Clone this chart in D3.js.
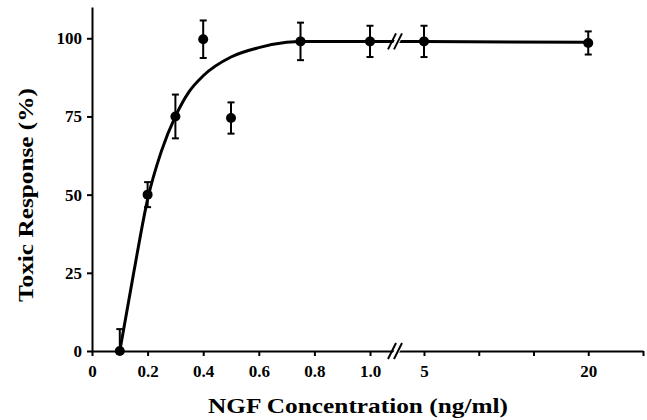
<!DOCTYPE html>
<html>
<head>
<meta charset="utf-8">
<script src="https://cdn.jsdelivr.net/npm/d3@7"></script>
<style>
  body { margin: 0; background: #fff; }
  text { font-family: "Liberation Serif", "DejaVu Serif", serif; font-weight: bold; fill: #000; }
</style>
</head>
<body>
<div id="chart"></div>
<script>
// measured points (NGF ng/ml vs % toxic response) with error bars
var concentration = [0.1, 0.2, 0.3, 0.4, 0.5, 0.75, 1.0, 5, 20];
var response = [0, 50, 75, 99.7, 74.5, 99, 99, 99, 98.5];
var responseErr = [7, 4, 7, 6, 5, 6, 5, 5, 3.7];

// fitted curve
var fitX = [0.1, 0.15, 0.2, 0.25, 0.3, 0.35, 0.4, 0.5, 0.6, 0.7, 0.75, 1.0, 5, 20];
var fitY = [0, 25, 48.5, 64, 75, 83, 88, 94, 97, 98.7, 99, 99, 99, 98.7];

var xTickValues = [0, 0.2, 0.4, 0.6, 0.8, 1.0, 5, 10, 15, 20, 25];
var xTickLabels = ["0", "0.2", "0.4", "0.6", "0.8", "1.0", "5", "", "", "20", ""];
var yTickValues = [0, 25, 50, 75, 100];

var svgWidth = 647;
var svgHeight = 420;

var margin = {
  top: 7,
  right: 4,
  bottom: 69,
  left: 92
};

var width = svgWidth - margin.left - margin.right;
var height = svgHeight - margin.top - margin.bottom;

var svg = d3.select("#chart")
  .append("svg")
  .attr("width", svgWidth)
  .attr("height", svgHeight);

var chartGroup = svg.append("g")
  .attr("transform", `translate(${margin.left}, ${margin.top})`);

// broken x axis: 0..1.0 linear, then 5..25 linear
var xScale = d3.scaleLinear()
  .domain([0, 1.0, 5, 25])
  .range([0, 278, 332, width]);

var yScale = d3.scaleLinear()
  .domain([0, 110])
  .range([height, 0]);

var bottomAxis = d3.axisBottom(xScale)
  .tickValues(xTickValues)
  .tickSize(5)
  .tickSizeOuter(0)
  .tickPadding(9)
  .tickFormat((d, i) => xTickLabels[i]);

var leftAxis = d3.axisLeft(yScale)
  .tickValues(yTickValues)
  .tickSize(5)
  .tickSizeOuter(0)
  .tickPadding(5);

var xAxis = chartGroup.append("g")
  .attr("transform", `translate(0, ${height})`)
  .call(bottomAxis);

var yAxis = chartGroup.append("g")
  .call(leftAxis);

chartGroup.selectAll(".domain, .tick line")
  .attr("stroke", "#000")
  .attr("stroke-width", 2);

chartGroup.selectAll(".tick text")
  .style("font-size", "17px")
  .style("font-family", "'Liberation Serif', serif")
  .style("font-weight", "bold");

// fitted curve
var line = d3.line()
  .x((d, i) => xScale(fitX[i]))
  .y(d => yScale(d))
  .curve(d3.curveMonotoneX);

chartGroup.append("path")
  .datum(fitY)
  .attr("d", line)
  .attr("fill", "none")
  .attr("stroke", "#000")
  .attr("stroke-width", 3);

// axis break marks
var breakX = (xScale(1.0) + xScale(5)) / 2;
[height, yScale(99)].forEach(function(by) {
  var g = chartGroup.append("g")
    .attr("transform", `translate(${breakX}, ${by})`);
  g.append("polygon")
    .attr("points", "-7,8 -1,8 7,-8 1,-8")
    .attr("fill", "#fff");
  g.selectAll("line.brk")
    .data([-5, 1])
    .enter()
    .append("line")
    .attr("x1", d => d - 4)
    .attr("y1", 8)
    .attr("x2", d => d + 4)
    .attr("y2", -8)
    .attr("stroke", "#000")
    .attr("stroke-width", 2);
});

// error bars
var errGroup = chartGroup.append("g")
  .attr("stroke", "#000")
  .attr("stroke-width", 2);

concentration.forEach(function(c, i) {
  var cx = xScale(c);
  var top = yScale(response[i] + responseErr[i]);
  var bottom = yScale(Math.max(0, response[i] - responseErr[i]));
  errGroup.append("line")
    .attr("x1", cx).attr("x2", cx)
    .attr("y1", top).attr("y2", bottom);
  errGroup.append("line")
    .attr("x1", cx - 3.5).attr("x2", cx + 3.5)
    .attr("y1", top).attr("y2", top);
  if (response[i] - responseErr[i] > 0) {
    errGroup.append("line")
      .attr("x1", cx - 3.5).attr("x2", cx + 3.5)
      .attr("y1", bottom).attr("y2", bottom);
  }
});

// points
chartGroup.selectAll("circle")
  .data(response)
  .enter()
  .append("circle")
  .attr("cx", (d, i) => xScale(concentration[i]))
  .attr("cy", d => yScale(d))
  .attr("r", 5)
  .attr("fill", "#000");

// axis titles
svg.append("text")
  .attr("x", 358)
  .attr("y", 413)
  .attr("text-anchor", "middle")
  .attr("font-size", 21)
  .attr("textLength", 300)
  .attr("lengthAdjust", "spacingAndGlyphs")
  .text("NGF Concentration (ng/ml)");

svg.append("text")
  .attr("transform", "translate(33, 195) rotate(-90)")
  .attr("text-anchor", "middle")
  .attr("font-size", 21)
  .attr("textLength", 214)
  .attr("lengthAdjust", "spacingAndGlyphs")
  .text("Toxic Response (%)");
</script>
</body>
</html>
